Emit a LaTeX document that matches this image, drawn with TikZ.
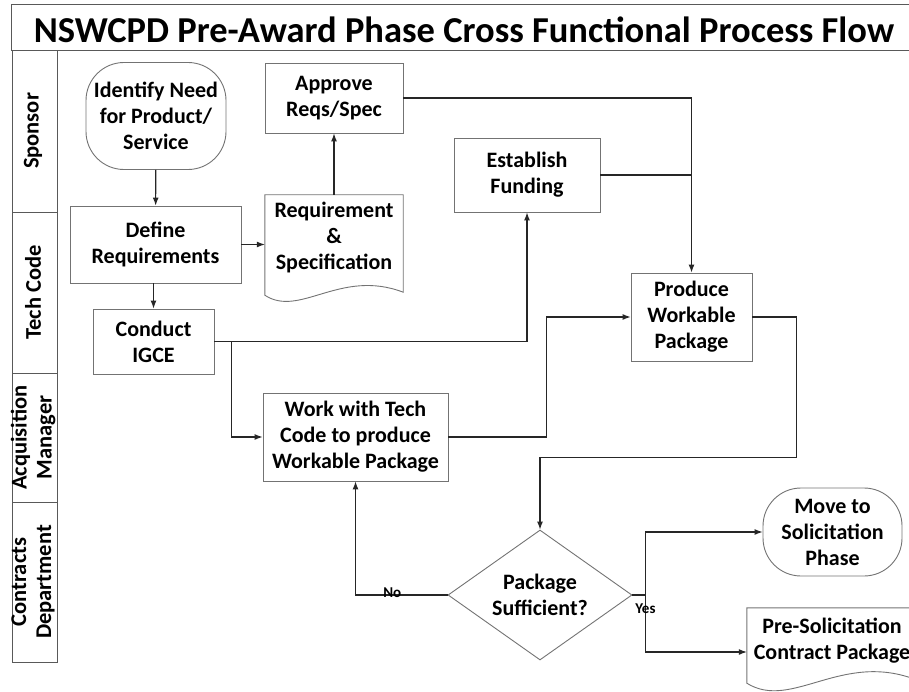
\documentclass[tikz,border=0pt]{standalone}
\usepackage{fontspec}
\setmainfont{Carlito}
\usetikzlibrary{arrows.meta, calc, positioning, shapes.geometric}

\begin{document}
\begin{tikzpicture}[
    x=1pt,
    y=-1pt,
    font=\fontsize{22}{26}\selectfont\bfseries,
    box/.style={
        draw=black!55,
        line width=0.9pt
    },
    proc/.style={
        box,
        align=center,
        inner sep=0pt
    },
    term/.style={
        box,
        align=center,
        inner sep=0pt,
        rounded corners=38pt
    },
    doc/.style={
        align=center,
        inner sep=0pt
    },
    decide/.style={
        box,
        diamond,
        aspect=1.4,
        align=center,
        inner sep=0pt,
        minimum width=184pt,
        minimum height=130pt
    },
    lane/.style={
        draw=black!65,
        line width=0.9pt
    },
    link/.style={
        black!85,
        line width=1.1pt
    },
    flow/.style={
        link,
        -{Latex[length=8pt,width=6pt]}
    },
    tag/.style={
        font=\fontsize{15}{17}\selectfont\bfseries,
        text=black,
        inner sep=0pt
    }
]

\useasboundingbox (0,0) rectangle (909,692);

% Title bar
\draw[lane] (11,4) rectangle (915,50);
\node[font=\fontsize{36.5}{42}\selectfont\bfseries] (title) at (464,30)
    {NSWCPD Pre-Award Phase Cross Functional Process Flow};

% Swim lanes
\foreach \i/\ytop/\ybot/\who in {
    1/50/212/Sponsor,
    2/212/373/Tech Code,
    3/373/502/{Acquisition\\Manager},
    4/502/662/{Contracts\\Department}} {
    \draw[lane] (12,\ytop) rectangle (57,\ybot);
    \node[rotate=90, align=center, font=\fontsize{22.5}{25}\selectfont\bfseries]
        (who\i) at (33,{(\ytop+\ybot)/2}) {\who};
}

% Sponsor
\node[term, minimum width=140pt, minimum height=107pt] (need) at (156,116)
    {Identify Need\\for Product/\\Service};
\node[proc, minimum width=138pt, minimum height=70pt] (approve) at (334,98)
    {Approve\\Reqs/Spec};
\node[proc, minimum width=146pt, minimum height=74pt] (fund) at (527,175)
    {Establish\\Funding};

% Tech Code
\node[proc, minimum width=171pt, minimum height=77pt] (define) at (155.5,244.5)
    {Define\\Requirements};
\node[doc, minimum width=138pt, minimum height=86pt] (spec) at (334,238)
    {Requirement\\\&\\Specification};
\draw[box] (spec.north west) -- (spec.north east)
    -- ($(spec.south east)+(0,11)$)
    .. controls +(-63,-24) and +(35,23) .. ($(spec.south west)+(0,14)$)
    -- cycle;
\node[proc, minimum width=121pt, minimum height=65pt] (igce) at (153.5,341.5)
    {Conduct\\IGCE};
\node[proc, minimum width=121pt, minimum height=88pt] (produce) at (691.5,317)
    {Produce\\Workable\\Package};

% Acquisition Manager
\node[proc, minimum width=185pt, minimum height=88pt] (work) at (355.5,437)
    {Work with Tech\\Code to produce\\Workable Package};

% Contracts Department
\node[decide] (check) at (540,595) {Package\\Sufficient?};
\node[term, minimum width=139pt, minimum height=88pt] (move) at (832.5,532)
    {Move to\\Solicitation\\Phase};
\node[doc, minimum width=170pt, minimum height=66pt] (pre) at (832,641)
    {Pre-Solicitation\\Contract Package};
\draw[box] (pre.north west) -- (pre.north east)
    -- ($(pre.south east)+(0,6)$)
    .. controls +(-75,-30) and +(45,28) .. ($(pre.south west)+(0,9)$)
    -- cycle;

% Connectors
\draw[flow] (need) -- (define);
\draw[flow] (define.east) -- (define.east -| spec.west);
\draw[flow] (igce.north |- define.south) -- (igce.north);
\draw[flow] (spec.north) -- (approve.south);
\draw[flow] (approve.east) -| (produce.north);
\draw[link] (fund.east) -- (fund.east -| produce.north);
\draw[flow] (igce.east) -| (fund.south);

\coordinate (tap) at ($(igce.east)+(17,0)$);
\draw[flow] (tap) |- (work.west);
\draw[flow] (work.east) -- ++(98,0) |- (produce.west);

\coordinate (back) at ($(check.north)+(0,-72)$);
\draw[flow] (produce.east) -- ++(44,0) |- (back) -- (check.north);

\draw[flow] (check.west) -| (work.south)
    node[tag, pos=0.3, yshift=2pt] (no) {No};

\coordinate (fork) at ($(check.east)+(13,0)$);
\draw[link] (check.east) -- (fork);
\draw[flow] (fork) |- ([yshift=-11pt]pre.west)
    node[tag, pos=0.12] (yes) {Yes};
\draw[flow] (fork) |- (move.west);

\end{tikzpicture}
\end{document}
